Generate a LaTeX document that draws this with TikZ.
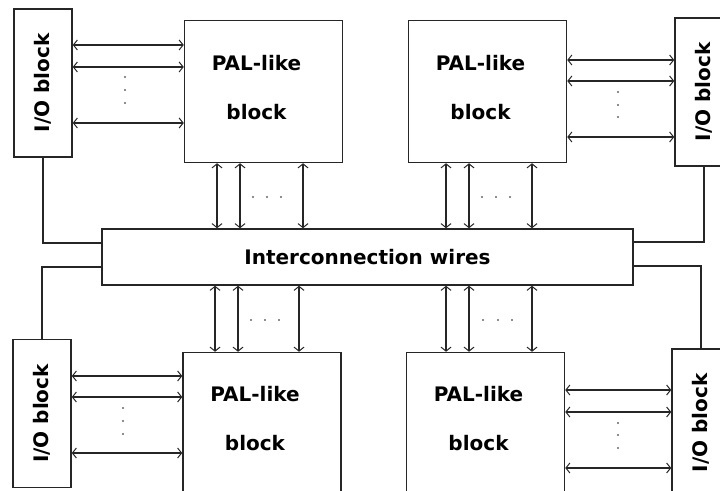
\documentclass[tikz,border=0pt]{standalone}
\usepackage{fontspec}
\setmainfont{DejaVu Sans}
\usetikzlibrary{arrows.meta}
\begin{document}
\begin{tikzpicture}[x=1bp, y=-1bp, line width=1.5bp,
		box/.style={draw=black!85, inner sep=0pt},
		iobox/.style={box, minimum width=58bp, minimum height=148bp, font=\fontsize{20bp}{24bp}\selectfont\bfseries},
		palbox/.style={box, minimum width=158bp, minimum height=142bp},
		txt/.style={font=\fontsize{20bp}{49bp}\selectfont\bfseries, align=center},
		bus/.style={draw=black!85, {Straight Barb[length=4bp,width=10bp,line width=1bp]}-{Straight Barb[length=4bp,width=10bp,line width=1bp]}},
		wire/.style={draw=black!85},
		dot/.style={fill=black!60}]
		\useasboundingbox (0,0) rectangle (720,491);
		\clip (0,0) rectangle (720,491);

		% blocks
		\node[iobox] (io1) at (43,83) {\rotatebox{90}{I/O block}};
		\node[iobox] (io2) at (704,92) {\rotatebox{90}{I/O block}};
		\node[iobox] (io3) at (42,413.5) {\rotatebox{90}{I/O block}};
		\node[iobox] (io4) at (701,423) {\rotatebox{90}{I/O block}};

		\node[palbox] (pal1) at (263.5,91.5) {};
		\node[palbox] (pal2) at (487.5,91.5) {};
		\node[palbox] (pal3) at (262,423.5) {};
		\node[palbox] (pal4) at (485.5,423.5) {};
		\node[txt] (t1) at ([shift={(-7,-4)}]pal1.center) {PAL-like\\block};
		\node[txt] (t2) at ([shift={(-7,-4)}]pal2.center) {PAL-like\\block};
		\node[txt] (t3) at ([shift={(-7,-5)}]pal3.center) {PAL-like\\block};
		\node[txt] (t4) at ([shift={(-7,-5)}]pal4.center) {PAL-like\\block};

		\node[box, minimum width=531bp, minimum height=56bp, font=\fontsize{20bp}{24bp}\selectfont\bfseries] (wires) at (367.5,257) {Interconnection wires};

		% I/O <-> PAL
		\foreach \y in {45,67,123} \draw[bus] (io1.east |- 0,\y) -- (pal1.west |- 0,\y);
		\foreach \y in {60,81,137} \draw[bus] (pal2.east |- 0,\y) -- (io2.west |- 0,\y);
		\foreach \y in {376,397,453} \draw[bus] (io3.east |- 0,\y) -- (pal3.west |- 0,\y);
		\foreach \y in {390,412,468} \draw[bus] (pal4.east |- 0,\y) -- (io4.west |- 0,\y);

		% PAL <-> wires
		\foreach \x in {217,240,303} \draw[bus] (pal1.south -| \x,0) -- (wires.north -| \x,0);
		\foreach \x in {446,469,532} \draw[bus] (pal2.south -| \x,0) -- (wires.north -| \x,0);
		\foreach \x in {215,238,299} \draw[bus] (wires.south -| \x,0) -- (pal3.north -| \x,0);
		\foreach \x in {446,469,532} \draw[bus] (wires.south -| \x,0) -- (pal4.north -| \x,0);

		\foreach \y in {77,90,103} \fill[dot] (125,\y) circle (1.1bp);
		\foreach \y in {92,105,117} \fill[dot] (618,\y) circle (1.1bp);
		\foreach \y in {408,421,434} \fill[dot] (123,\y) circle (1.1bp);
		\foreach \y in {423,435,448} \fill[dot] (618,\y) circle (1.1bp);
		\foreach \x in {253,267,281} \fill[dot] (\x,197) circle (1.1bp);
		\foreach \x in {482,496,510} \fill[dot] (\x,197) circle (1.1bp);
		\foreach \x in {251,265,279} \fill[dot] (\x,320) circle (1.1bp);
		\foreach \x in {483,498,512} \fill[dot] (\x,320) circle (1.1bp);

		% I/O <-> wires
		\draw[wire] (io1.south) |- (wires.west |- 0,243);
		\draw[wire] (io2.south) |- (wires.east |- 0,242);
		\draw[wire] (wires.west |- 0,267) -| (io3.north);
		\draw[wire] (wires.east |- 0,266) -| (io4.north);
	\end{tikzpicture}
\end{document}
